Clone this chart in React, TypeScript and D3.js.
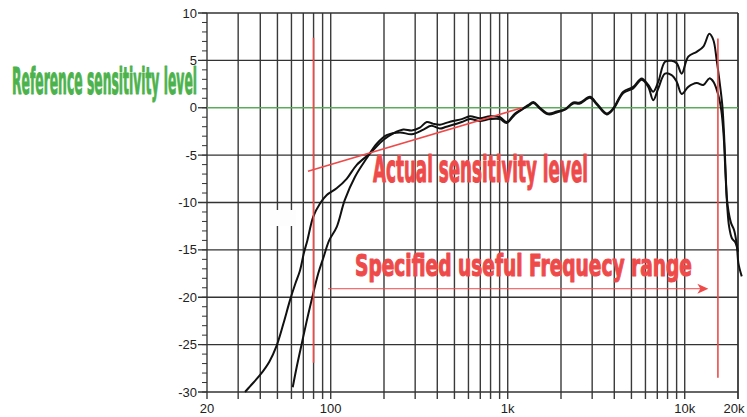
import React, { useRef, useEffect } from "react";
import * as d3 from "d3";

// frequency (Hz), level (dB)
const curveOne: [number, number][] = [
  [32.8, -30], [35, -29.4], [39.9, -28.2], [45, -26.8], [49.5, -25.1], [54, -22.8],
  [58.9, -20.3], [63, -18.6], [67, -17.2], [70.6, -15.3], [73.8, -14.0], [79.7, -11.5],
  [87, -10.1], [95, -9.2], [108, -8.5], [123, -7.5], [140, -6.05], [167, -4.8],
  [198, -3.4], [226, -2.7], [257, -2.3], [287, -2.4], [319, -2.1], [349, -1.5],
  [380, -1.7], [414, -1.8], [450, -1.6], [491, -1.4], [550, -1.2], [612, -0.9],
  [697, -1.1], [794, -0.9], [904, -1.0], [987, -1.5], [1100, -0.6], [1225, -0.05],
  [1310, 0.3], [1397, 0.6], [1521, 0.0], [1695, -0.6], [1892, -0.4], [2108, -0.15],
  [2345, 0.55], [2560, 0.55], [2918, 1.15], [3184, 0.45], [3624, -0.6], [3948, -0.05],
  [4498, 1.7], [5118, 2.2], [5712, 3.1], [6224, 2.4], [6640, 1.7], [7092, 2.75],
  [7740, 4.85], [8434, 4.95], [9008, 4.7], [9616, 3.6], [10472, 5.4], [11686, 5.9],
  [12736, 6.45], [13774, 7.8], [14512, 7.15], [15160, 5.0], [15800, 2.5], [16300, 0.3],
  [16700, -3], [17000, -6.5], [17300, -9.5], [17700, -11], [18300, -12.2], [19000, -12.9],
  [19700, -14.5], [20100, -16.4], [21000, -17.8],
];

const curveTwo: [number, number][] = [
  [61, -29.5], [64.5, -27.2], [68.6, -24.9], [73, -22.6], [78, -20.3], [85, -17.5],
  [91, -15.8], [98, -14.0], [108, -12.6], [120, -9.75], [137, -7.3], [160, -5.3],
  [182, -3.8], [207, -2.9], [246, -2.6], [287, -2.8], [334, -2.3], [370, -1.9],
  [414, -2.2], [450, -2.0], [491, -1.8], [550, -1.5], [612, -1.2], [697, -1.4],
  [794, -1.2], [904, -1.2], [987, -1.6], [1100, -0.7], [1225, -0.1], [1310, 0.2],
  [1397, 0.5], [1521, -0.1], [1695, -0.7], [1892, -0.5], [2108, -0.2], [2345, 0.45],
  [2560, 0.45], [2918, 1.05], [3184, 0.35], [3624, -0.7], [3948, -0.15], [4498, 1.55],
  [5118, 2.05], [5712, 2.95], [6224, 2.2], [6640, 0.8], [7092, 2.05], [7740, 3.6],
  [8434, 3.45], [9008, 2.75], [9616, 1.45], [10472, 2.2], [11686, 2.6], [12736, 2.4],
  [13774, 3.1], [14512, 2.75], [15472, 1.35], [16100, -0.3], [16600, -3], [17000, -7],
  [17400, -10.5], [17800, -12.5], [18500, -13.8], [19300, -14.2], [20000, -15.2],
];

const yTicks = [10, 5, 0, -5, -10, -15, -20, -25, -30];
const xTickValues = [20, 100, 1000, 10000, 20000];
const xTickLabels = ["20", "100", "1k", "10k", "20k"];
const decades = [10, 100, 1000, 10000];

// annotations
const slopeLine: [number, number][] = [[74.4, -6.7], [1205, 0]];
const cutoffMarkers = [
  { freq: 80, top: 7.4, bottom: -26.9 },
  { freq: 15400, top: 7.3, bottom: -28.5 },
];
const rangeArrow = { from: 96.6, to: 13600, level: -19.1 };

const RED = "#ef4a4a";
const GREEN = "#4cb34c";

export default function App() {
  const ref = useRef<SVGSVGElement>(null);

  useEffect(() => {
    const svg = d3.select(ref.current);
    svg.selectAll("*").remove();

    const x = d3.scaleLog().domain([20, 20000]).range([207, 738]);
    const y = d3.scaleLinear().domain([-30, 10]).range([392, 13]);

    const gridFreqs: number[] = [];
    decades.forEach((d) => {
      for (let m = 1; m <= 9; m++) {
        const f = d * m;
        if (f >= 20 && f <= 20000) gridFreqs.push(f);
      }
    });
    gridFreqs.push(20000);

    // vertical grid
    svg
      .append("g")
      .selectAll("line")
      .data(gridFreqs)
      .enter()
      .append("line")
      .attr("x1", (d) => x(d))
      .attr("x2", (d) => x(d))
      .attr("y1", y(10))
      .attr("y2", y(-30) + 7)
      .attr("stroke", "#3a3a3a")
      .attr("stroke-width", 1.4);

    // horizontal grid (0 dB gets a green line, black tick only)
    svg
      .append("g")
      .selectAll("line")
      .data(yTicks)
      .enter()
      .append("line")
      .attr("x1", 198)
      .attr("x2", (d) => (d === 0 ? 207 : x(20000)))
      .attr("y1", (d) => y(d))
      .attr("y2", (d) => y(d))
      .attr("stroke", "#333")
      .attr("stroke-width", 1.3);

    // minor ticks on left axis
    svg
      .append("g")
      .selectAll("line")
      .data(d3.range(-30, 11, 1))
      .enter()
      .append("line")
      .attr("x1", 202)
      .attr("x2", 207)
      .attr("y1", (d) => y(d))
      .attr("y2", (d) => y(d))
      .attr("stroke", "#333")
      .attr("stroke-width", 1);

    // zero line
    svg
      .append("line")
      .attr("x1", 207)
      .attr("x2", x(20000))
      .attr("y1", y(0))
      .attr("y2", y(0))
      .attr("stroke", "#5aab5a")
      .attr("stroke-width", 1.5);

    // y tick labels
    svg
      .append("g")
      .selectAll("text")
      .data(yTicks)
      .enter()
      .append("text")
      .attr("x", 197)
      .attr("y", (d) => y(d))
      .attr("dy", "0.35em")
      .attr("text-anchor", "end")
      .attr("font-family", "'Liberation Sans Narrow', 'Liberation Sans', sans-serif")
      .attr("font-size", 13)
      .attr("fill", "#222")
      .text((d) => String(d));

    // x tick labels
    svg
      .append("g")
      .selectAll("text")
      .data(xTickValues)
      .enter()
      .append("text")
      .attr("x", (d) => x(d) + (d === 20000 ? -4 : 0))
      .attr("y", 413)
      .attr("text-anchor", "middle")
      .attr("font-family", "'Liberation Sans Narrow', 'Liberation Sans', sans-serif")
      .attr("font-size", 13)
      .attr("fill", "#222")
      .text((d, i) => xTickLabels[i]);

    // blank patch from the original scan
    svg
      .append("rect")
      .attr("x", 270)
      .attr("y", 210)
      .attr("width", 26)
      .attr("height", 16)
      .attr("fill", "#fdfdfd");

    // response curves
    const line = d3
      .line<[number, number]>()
      .x((d) => x(d[0]))
      .y((d) => y(d[1]))
      .curve(d3.curveCatmullRom.alpha(0.5));

    [curveOne, curveTwo].forEach((c) => {
      svg
        .append("path")
        .attr("d", line(c))
        .attr("fill", "none")
        .attr("stroke", "#111")
        .attr("stroke-width", 2);
    });

    // red annotations
    svg
      .append("line")
      .attr("x1", x(slopeLine[0][0]))
      .attr("y1", y(slopeLine[0][1]))
      .attr("x2", x(slopeLine[1][0]))
      .attr("y2", y(slopeLine[1][1]))
      .attr("stroke", RED)
      .attr("stroke-width", 1.6);

    svg
      .append("g")
      .selectAll("line")
      .data(cutoffMarkers)
      .enter()
      .append("line")
      .attr("x1", (d) => x(d.freq))
      .attr("x2", (d) => x(d.freq))
      .attr("y1", (d) => y(d.top))
      .attr("y2", (d) => y(d.bottom))
      .attr("stroke", RED)
      .attr("stroke-width", 1.6);

    const ay = y(rangeArrow.level);
    const tip = x(rangeArrow.to);
    svg
      .append("line")
      .attr("x1", x(rangeArrow.from))
      .attr("x2", tip - 6)
      .attr("y1", ay)
      .attr("y2", ay)
      .attr("stroke", RED)
      .attr("stroke-width", 1);
    svg
      .append("path")
      .attr("d", `M${tip},${ay} L${tip - 11},${ay - 5} L${tip - 8},${ay} L${tip - 11},${ay + 5} Z`)
      .attr("fill", RED);

    const labels = [
      { text: "Reference sensitivity level", x: 12, y: 94, len: 185, size: 38, color: GREEN },
      { text: "Actual sensitivity level", x: 373, y: 182, len: 215, size: 38, color: RED },
      { text: "Specified useful Frequecy range", x: 355, y: 276, len: 337, size: 30, color: RED },
    ];
    svg
      .append("g")
      .selectAll("text")
      .data(labels)
      .enter()
      .append("text")
      .attr("x", (d) => d.x)
      .attr("y", (d) => d.y)
      .attr("textLength", (d) => d.len)
      .attr("lengthAdjust", "spacingAndGlyphs")
      .attr("font-family", "'Liberation Sans Narrow', 'DejaVu Sans Condensed', sans-serif")
      .attr("font-weight", "bold")
      .attr("font-size", (d) => d.size)
      .attr("fill", (d) => d.color)
      .attr("stroke", (d) => d.color)
      .attr("stroke-width", 1.1)
      .attr("stroke-linejoin", "round")
      .text((d) => d.text);
  }, []);

  return (
    <svg
      ref={ref}
      width={747}
      height={417}
      style={{ position: "absolute", left: 0, top: 0, background: "#fff" }}
    />
  );
}
